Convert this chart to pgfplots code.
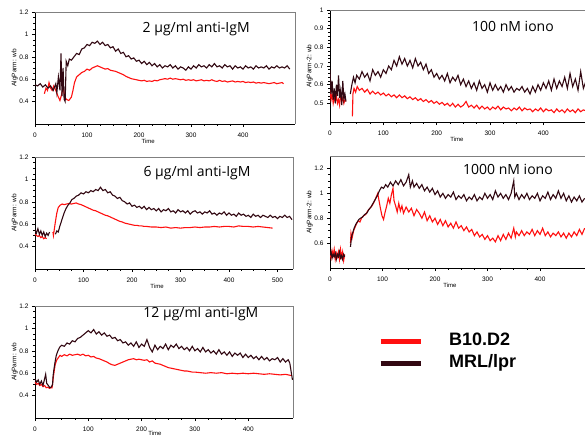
\documentclass[border=0pt]{standalone}
\usepackage{fontspec}
\setmainfont{Liberation Sans}
\newfontfamily\titlefont{Open Sans}
\usepackage{pgfplots}
\pgfplotsset{compat=1.18}

\definecolor{lpr}{RGB}{50,8,18}
\definecolor{bten}{RGB}{255,16,16}

\tikzset{ttl/.style={font=\titlefont\fontsize{14bp}{16bp}\selectfont}}
\pgfplotsset{
  panel/.style={
    scale only axis, height=112bp,
    axis x line*=bottom, axis y line*=left,
    axis line style={-, line width=0.9bp, black},
    tick align=outside, major tick length=3bp, minor tick length=1.6bp,
    tick style={black, line width=0.6bp},
    minor x tick num=3, minor y tick num=3,
    tick label style={font=\fontsize{6.5bp}{7bp}\selectfont},
    xticklabel style={yshift=-2bp},
    /pgf/number format/assume math mode=true,
    xlabel={Time},
    xlabel style={font=\fontsize{6bp}{7bp}\selectfont, anchor=north, inner sep=0pt},
    ylabel style={font=\fontsize{6.5bp}{7bp}\selectfont},
    ylabel shift=-5bp,
    xmin=0, xmax=500, clip=true,
    every axis plot/.append style={line width=1.1bp, mark=none},
    extra description/.code={\draw[gray, line width=0.5bp] (0,1) -- (1,1) -- (1,0);},
  },
}

\begin{document}
\begin{tikzpicture}
\useasboundingbox (0,0) rectangle (585bp,-437bp);

% 2 ug/ml anti-IgM
\begin{axis}[panel, width=260bp, at={(35bp,-124bp)}, anchor=south west,
  ymin=0.2, ymax=1.2, ytick={0.4,0.6,0.8,1,1.2}, xtick={0,100,200,300,400},
  ylabel={AlgParm: wb},
  xlabel style={at={(axis description cs:0.435,-0.135)}}]
\addplot[bten] coordinates {(18,0.47)(21,0.52)(24,0.50)(27,0.57)(30,0.52)(33,0.50)(36,0.54)(40,0.50)(44,0.45)(48,0.41)(51,0.46)(54,0.53)(57,0.45)(60,0.42)(65,0.41)(70,0.44)(73,0.50)(76,0.57)(80,0.62)(85,0.64)(90,0.66)(95,0.67)(100,0.69)(105,0.68)(110,0.70)(115,0.71)(120,0.72)(125,0.71)(130,0.70)(135,0.69)(140,0.695)(145,0.68)(150,0.675)(155,0.67)(160,0.66)(165,0.65)(170,0.64)(175,0.625)(180,0.615)(185,0.605)(190,0.60)(195,0.595)(200,0.59)(205,0.585)(210,0.59)(215,0.58)(220,0.585)(225,0.58)(230,0.59)(235,0.585)(240,0.595)(245,0.60)(250,0.605)(255,0.60)(260,0.61)(265,0.60)(270,0.605)(275,0.60)(280,0.595)(285,0.60)(290,0.59)(295,0.595)(300,0.59)(305,0.595)(310,0.585)(315,0.59)(320,0.595)(325,0.585)(330,0.59)(335,0.585)(340,0.595)(345,0.585)(350,0.58)(355,0.59)(360,0.58)(365,0.585)(370,0.575)(375,0.58)(380,0.585)(385,0.575)(390,0.58)(395,0.575)(400,0.58)(405,0.57)(410,0.575)(415,0.57)(420,0.575)(425,0.565)(430,0.57)(435,0.565)(440,0.57)(445,0.565)(450,0.56)(455,0.565)(460,0.57)(465,0.56)(470,0.565)(475,0.57)(478,0.56)};
\addplot[lpr] coordinates {(0,0.55)(5,0.54)(10,0.56)(15,0.53)(20,0.55)(25,0.52)(30,0.54)(35,0.50)(40,0.56)(42,0.48)(45,0.62)(48,0.50)(50,0.83)(52,0.45)(54,0.70)(56,0.42)(58,0.40)(60,0.76)(63,0.72)(66,0.78)(70,0.77)(75,0.80)(80,0.83)(85,0.82)(90,0.87)(95,0.88)(100,0.91)(105,0.90)(110,0.93)(115,0.92)(120,0.94)(125,0.91)(130,0.93)(135,0.90)(140,0.91)(145,0.88)(150,0.89)(155,0.85)(160,0.87)(165,0.83)(170,0.84)(175,0.80)(180,0.81)(185,0.78)(190,0.79)(195,0.76)(200,0.77)(205,0.74)(210,0.76)(215,0.73)(220,0.75)(225,0.72)(230,0.74)(235,0.71)(240,0.73)(245,0.70)(250,0.72)(255,0.71)(260,0.73)(265,0.70)(270,0.72)(275,0.69)(280,0.71)(285,0.70)(290,0.68)(295,0.71)(300,0.69)(305,0.72)(310,0.70)(315,0.73)(320,0.71)(325,0.72)(330,0.70)(335,0.73)(340,0.71)(345,0.74)(350,0.71)(355,0.72)(360,0.70)(365,0.73)(370,0.71)(375,0.72)(380,0.69)(385,0.72)(390,0.70)(395,0.71)(400,0.69)(405,0.72)(410,0.70)(415,0.71)(420,0.69)(425,0.72)(430,0.70)(435,0.71)(440,0.70)(445,0.72)(450,0.69)(455,0.71)(460,0.70)(465,0.72)(470,0.70)(475,0.71)(480,0.70)(485,0.72)(490,0.69)};
\node[ttl] at (axis description cs:0.62,0.85) {2 μg/ml anti-IgM};
\end{axis}

% 100 nM iono
\begin{axis}[panel, width=266.7bp, at={(330bp,-122bp)}, anchor=south west,
  ymin=0.4, ymax=1, ytick={0.5,0.6,0.7,0.8,0.9,1}, minor y tick num=4, xtick={0,100,200,300,400},
  ylabel={AlgParm-2: wb},
  xlabel style={at={(axis description cs:0.476,-0.135)}}]
\addplot[bten] coordinates {(0,0.57)(2,0.52)(4,0.55)(6,0.50)(8,0.53)(10,0.51)(12,0.54)(14,0.50)(16,0.52)(18,0.49)(20,0.55)(22,0.51)(24,0.53)(26,0.50)(28,0.52)(30,0.51)};
\addplot[bten] coordinates {(42,0.43)(43,0.55)(45,0.58)(48,0.56)(51,0.59)(55,0.57)(60,0.58)(65,0.56)(70,0.575)(75,0.55)(80,0.565)(85,0.55)(90,0.56)(95,0.545)(100,0.555)(105,0.54)(110,0.55)(115,0.535)(120,0.545)(125,0.53)(130,0.545)(135,0.53)(140,0.54)(145,0.525)(150,0.535)(155,0.52)(160,0.53)(165,0.515)(170,0.525)(175,0.51)(180,0.52)(185,0.505)(190,0.515)(195,0.50)(200,0.51)(205,0.495)(210,0.505)(215,0.49)(220,0.50)(225,0.485)(230,0.50)(235,0.48)(240,0.495)(245,0.48)(250,0.49)(255,0.51)(260,0.48)(265,0.49)(270,0.475)(275,0.49)(280,0.47)(285,0.485)(290,0.47)(295,0.48)(300,0.465)(305,0.48)(310,0.47)(315,0.485)(320,0.465)(325,0.48)(330,0.47)(335,0.475)(340,0.46)(345,0.475)(350,0.465)(355,0.48)(360,0.46)(365,0.475)(370,0.465)(375,0.47)(380,0.455)(385,0.47)(390,0.46)(395,0.475)(400,0.455)(405,0.47)(410,0.46)(415,0.465)(420,0.45)(425,0.47)(430,0.455)(435,0.465)(440,0.45)(445,0.47)(450,0.455)(455,0.465)(460,0.45)(465,0.47)(470,0.455)(475,0.465)(480,0.46)};
\addplot[lpr] coordinates {(0,0.68)(2,0.55)(4,0.62)(6,0.52)(8,0.58)(10,0.50)(12,0.60)(14,0.54)(16,0.65)(18,0.53)(20,0.57)(22,0.49)(24,0.62)(26,0.52)(28,0.55)(30,0.51)};
\addplot[lpr] coordinates {(38,0.55)(41,0.60)(44,0.64)(47,0.61)(50,0.65)(55,0.63)(60,0.67)(65,0.64)(70,0.66)(75,0.62)(80,0.68)(85,0.65)(90,0.67)(95,0.64)(100,0.68)(105,0.66)(110,0.70)(115,0.68)(120,0.73)(125,0.70)(130,0.75)(135,0.71)(140,0.74)(145,0.70)(150,0.73)(155,0.69)(160,0.74)(165,0.70)(170,0.72)(175,0.68)(180,0.71)(185,0.66)(190,0.68)(195,0.64)(200,0.66)(205,0.63)(210,0.65)(215,0.62)(220,0.66)(225,0.61)(230,0.64)(235,0.62)(240,0.65)(245,0.60)(250,0.63)(255,0.59)(260,0.62)(265,0.58)(270,0.61)(275,0.57)(280,0.62)(285,0.58)(290,0.60)(295,0.56)(300,0.61)(305,0.57)(310,0.60)(315,0.57)(320,0.59)(325,0.56)(330,0.60)(335,0.57)(340,0.59)(345,0.56)(350,0.58)(355,0.57)(360,0.59)(365,0.56)(370,0.58)(375,0.55)(380,0.59)(385,0.56)(390,0.60)(395,0.57)(400,0.61)(405,0.58)(410,0.62)(415,0.57)(420,0.63)(425,0.58)(430,0.62)(435,0.59)(440,0.64)(445,0.58)(450,0.66)(455,0.59)(460,0.63)(465,0.57)(470,0.67)(475,0.58)(480,0.62)};
\node[ttl] at (axis description cs:0.686,0.85) {100 nM iono};
\end{axis}

% 6 ug/ml anti-IgM
\begin{axis}[panel, width=258bp, at={(35bp,-269bp)}, anchor=south west, xmax=532,
  ymin=0.2, ymax=1.2, ytick={0.4,0.6,0.8,1,1.2}, xtick={0,100,200,300,400,500},
  ylabel={AlgParm: wb},
  xlabel style={at={(axis description cs:0.473,-0.135)}}]
\addplot[bten] coordinates {(0,0.51)(3,0.50)(6,0.49)(9,0.50)(12,0.48)(15,0.49)(18,0.47)(21,0.48)(24,0.47)};
\addplot[bten] coordinates {(37,0.53)(38,0.50)(40,0.56)(42,0.62)(45,0.70)(48,0.75)(52,0.77)(56,0.78)(60,0.775)(65,0.78)(70,0.785)(75,0.78)(80,0.785)(85,0.79)(90,0.78)(95,0.775)(100,0.765)(105,0.755)(110,0.745)(115,0.735)(120,0.725)(125,0.72)(130,0.71)(135,0.70)(140,0.69)(145,0.68)(150,0.675)(155,0.665)(160,0.655)(165,0.645)(170,0.635)(175,0.625)(180,0.62)(185,0.61)(190,0.605)(195,0.60)(200,0.595)(205,0.59)(210,0.59)(215,0.585)(220,0.585)(225,0.58)(230,0.58)(240,0.575)(250,0.575)(260,0.57)(270,0.575)(280,0.565)(290,0.57)(300,0.565)(310,0.57)(320,0.57)(330,0.575)(340,0.57)(350,0.575)(360,0.575)(370,0.58)(380,0.575)(390,0.58)(400,0.58)(410,0.575)(420,0.585)(430,0.58)(440,0.58)(450,0.575)(460,0.58)(470,0.575)(480,0.57)(490,0.565)};
\addplot[lpr] coordinates {(0,0.55)(3,0.52)(6,0.56)(9,0.51)(12,0.54)(15,0.50)(18,0.53)(21,0.49)(24,0.52)(27,0.50)(30,0.53)};
\addplot[lpr] coordinates {(42,0.51)(45,0.54)(48,0.53)(51,0.58)(54,0.62)(57,0.66)(60,0.70)(64,0.74)(68,0.77)(72,0.79)(76,0.82)(80,0.83)(85,0.85)(90,0.86)(95,0.88)(100,0.87)(105,0.89)(110,0.88)(115,0.90)(120,0.89)(125,0.91)(130,0.90)(135,0.93)(140,0.90)(145,0.91)(150,0.88)(155,0.89)(160,0.86)(165,0.85)(170,0.83)(175,0.84)(180,0.81)(185,0.80)(190,0.78)(195,0.79)(200,0.76)(205,0.77)(210,0.75)(215,0.76)(220,0.74)(225,0.76)(230,0.73)(235,0.75)(240,0.73)(245,0.74)(250,0.72)(255,0.74)(260,0.71)(265,0.73)(270,0.72)(275,0.74)(280,0.71)(285,0.72)(290,0.70)(295,0.73)(300,0.71)(305,0.72)(310,0.70)(315,0.72)(320,0.69)(325,0.71)(330,0.72)(335,0.70)(340,0.71)(345,0.69)(350,0.71)(355,0.70)(360,0.72)(365,0.69)(370,0.70)(375,0.68)(380,0.70)(385,0.69)(390,0.71)(395,0.68)(400,0.70)(405,0.68)(410,0.69)(415,0.67)(420,0.70)(425,0.68)(430,0.69)(435,0.67)(440,0.68)(445,0.66)(450,0.69)(455,0.67)(460,0.68)(465,0.66)(470,0.68)(475,0.67)(480,0.66)(485,0.68)(490,0.66)(495,0.67)(500,0.65)(505,0.67)(510,0.66)(515,0.68)(520,0.66)(525,0.67)(530,0.64)};
\node[ttl] at (axis description cs:0.628,0.857) {6 μg/ml anti-IgM};
\end{axis}

% 1000 nM iono
\begin{axis}[panel, width=262.5bp, at={(330bp,-268bp)}, anchor=south west,
  ymin=0.4, ymax=1.3, ytick={0.6,0.8,1,1.2}, xtick={0,100,200,300,400},
  ylabel={AlgParm-2: wb},
  xlabel style={at={(axis description cs:0.457,-0.135)}}]
\addplot[bten] coordinates {(0,0.52)(2,0.48)(4,0.54)(6,0.50)(8,0.55)(10,0.47)(12,0.52)(14,0.49)(16,0.53)(18,0.47)(20,0.55)(22,0.49)(24,0.53)(26,0.46)(28,0.51)};
\addplot[bten] coordinates {(39,0.60)(40,0.68)(42,0.64)(45,0.70)(48,0.73)(51,0.76)(54,0.78)(57,0.77)(60,0.80)(64,0.82)(68,0.83)(72,0.86)(76,0.88)(80,0.90)(84,0.93)(88,0.97)(91,1.00)(93,0.95)(96,0.88)(99,0.82)(102,0.79)(105,0.85)(108,0.90)(111,0.96)(114,0.92)(117,0.99)(120,1.04)(122,0.94)(125,0.90)(128,0.85)(131,0.92)(134,0.86)(137,0.90)(140,0.84)(145,0.89)(150,0.85)(155,0.88)(160,0.82)(165,0.87)(170,0.84)(175,0.80)(180,0.85)(185,0.78)(190,0.82)(195,0.77)(200,0.80)(205,0.75)(210,0.79)(215,0.74)(220,0.78)(225,0.73)(230,0.76)(235,0.72)(240,0.77)(245,0.72)(250,0.74)(255,0.70)(260,0.73)(265,0.69)(270,0.71)(275,0.66)(280,0.69)(285,0.65)(290,0.67)(295,0.63)(300,0.66)(305,0.62)(310,0.64)(315,0.61)(320,0.66)(325,0.62)(330,0.67)(335,0.63)(340,0.68)(345,0.64)(350,0.72)(353,0.65)(355,0.69)(360,0.66)(365,0.70)(370,0.66)(375,0.69)(380,0.67)(385,0.71)(390,0.66)(395,0.70)(400,0.67)(405,0.72)(410,0.66)(415,0.69)(420,0.65)(425,0.68)(430,0.66)(435,0.69)(440,0.65)(445,0.68)(450,0.64)(455,0.68)(460,0.65)(465,0.69)(470,0.66)(475,0.71)(480,0.67)(485,0.72)};
\addplot[lpr] coordinates {(0,0.50)(2,0.53)(4,0.48)(6,0.51)(8,0.49)(10,0.52)(12,0.47)(14,0.51)(16,0.49)(18,0.53)(20,0.48)(22,0.50)(24,0.47)(26,0.51)(28,0.49)};
\addplot[lpr] coordinates {(39,0.57)(41,0.65)(43,0.68)(46,0.72)(49,0.75)(52,0.77)(55,0.79)(58,0.80)(62,0.81)(66,0.83)(70,0.84)(74,0.87)(78,0.89)(82,0.92)(86,0.95)(90,0.98)(94,1.02)(98,1.05)(102,1.04)(106,1.07)(110,1.05)(115,1.09)(120,1.06)(125,1.10)(130,1.07)(135,1.11)(140,1.06)(145,1.09)(150,1.15)(153,1.05)(157,1.10)(160,1.05)(165,1.08)(170,1.04)(175,1.07)(180,1.02)(185,1.05)(190,1.01)(195,1.04)(200,0.99)(205,1.02)(210,0.97)(215,1.00)(220,0.96)(225,0.99)(230,0.97)(235,1.01)(240,0.95)(245,0.98)(250,0.96)(255,0.99)(260,0.94)(265,0.97)(270,0.95)(275,0.99)(280,0.94)(285,0.97)(290,0.95)(295,1.00)(300,0.96)(305,0.99)(310,0.95)(315,1.02)(320,0.97)(325,1.00)(330,0.96)(335,0.99)(340,0.95)(345,1.00)(350,1.10)(352,0.97)(355,1.00)(360,0.95)(365,0.99)(370,0.96)(375,1.00)(380,0.95)(385,0.98)(390,0.96)(395,1.00)(400,0.94)(405,0.98)(410,0.96)(415,1.01)(420,0.95)(425,0.99)(430,0.96)(435,1.02)(440,0.96)(445,1.00)(450,0.94)(455,0.98)(460,0.93)(465,0.97)(470,0.94)(475,0.98)(480,0.93)(485,0.96)};
\node[ttl] at (axis description cs:0.678,0.88) {1000 nM iono};
\end{axis}

% 12 ug/ml anti-IgM, with the legend
\begin{axis}[panel, width=258bp, at={(35bp,-418bp)}, anchor=south west, xmax=484,
  ymin=0.2, ymax=1.2, ytick={0.4,0.6,0.8,1,1.2}, xtick={0,100,200,300,400},
  ylabel={AlgParm: wb},
  xlabel style={at={(axis description cs:0.465,-0.115)}},
  legend image code/.code={\draw[line width=5bp] (0bp,0bp) -- (40bp,0bp);},
  legend style={at={(axis description cs:1.33,0.76)}, anchor=north west,
    draw=none, fill=none, inner sep=0pt, outer sep=0pt, row sep=5bp,
    font=\bfseries\fontsize{18bp}{20bp}\selectfont,
    nodes={inner sep=0pt, text height=13bp, text depth=4bp},
    /tikz/every odd column/.append style={column sep=26bp}},
  legend cell align=left]
\addplot[bten] coordinates {(0,0.52)(3,0.50)(6,0.51)(9,0.49)(12,0.50)(15,0.48)(18,0.49)(21,0.47)(24,0.475)(27,0.465)(30,0.47)(32,0.47)(34,0.55)(36,0.62)(38,0.68)(41,0.72)(44,0.74)(47,0.76)(50,0.75)(55,0.765)(60,0.755)(65,0.77)(70,0.76)(75,0.765)(80,0.77)(85,0.76)(90,0.77)(95,0.755)(100,0.76)(105,0.745)(110,0.75)(115,0.735)(120,0.73)(125,0.72)(130,0.71)(135,0.70)(140,0.685)(145,0.675)(150,0.67)(155,0.68)(160,0.69)(165,0.70)(170,0.71)(175,0.72)(180,0.725)(185,0.73)(190,0.72)(195,0.725)(200,0.72)(205,0.715)(210,0.72)(215,0.70)(220,0.71)(225,0.69)(230,0.685)(235,0.68)(240,0.67)(245,0.66)(250,0.65)(255,0.645)(260,0.64)(265,0.635)(270,0.63)(275,0.625)(280,0.62)(285,0.62)(290,0.615)(295,0.61)(300,0.61)(310,0.605)(320,0.60)(330,0.605)(340,0.60)(350,0.605)(360,0.595)(370,0.60)(380,0.595)(390,0.60)(400,0.595)(410,0.60)(420,0.595)(430,0.59)(440,0.595)(450,0.59)(460,0.585)(470,0.59)(480,0.58)};
\addlegendentry{B10.D2}
\addplot[lpr] coordinates {(0,0.55)(3,0.52)(6,0.54)(9,0.50)(12,0.53)(15,0.49)(18,0.55)(20,0.59)(22,0.51)(25,0.49)(28,0.47)(31,0.48)(33,0.50)(34,0.58)(36,0.65)(38,0.71)(40,0.76)(43,0.80)(46,0.83)(50,0.85)(55,0.84)(60,0.87)(65,0.86)(70,0.89)(75,0.88)(80,0.91)(85,0.92)(90,0.94)(95,0.96)(100,0.98)(105,0.96)(110,0.99)(115,0.95)(120,0.97)(125,0.94)(130,0.96)(135,0.93)(140,0.94)(145,0.91)(150,0.92)(155,0.89)(160,0.90)(165,0.87)(170,0.88)(175,0.85)(180,0.87)(185,0.84)(190,0.88)(195,0.83)(200,0.86)(205,0.84)(210,0.90)(215,0.83)(220,0.79)(225,0.85)(230,0.81)(235,0.84)(240,0.82)(245,0.86)(250,0.81)(255,0.85)(260,0.83)(265,0.86)(270,0.82)(275,0.84)(280,0.81)(285,0.83)(290,0.80)(295,0.84)(300,0.80)(305,0.82)(310,0.79)(315,0.83)(320,0.79)(325,0.81)(330,0.78)(335,0.80)(340,0.77)(345,0.81)(350,0.77)(355,0.79)(360,0.76)(365,0.79)(370,0.75)(375,0.78)(380,0.76)(385,0.78)(390,0.74)(395,0.77)(400,0.74)(405,0.76)(410,0.73)(415,0.75)(420,0.72)(425,0.75)(430,0.72)(435,0.74)(440,0.71)(445,0.73)(450,0.72)(455,0.74)(460,0.70)(465,0.73)(470,0.70)(475,0.72)(478,0.69)(481,0.60)(483,0.54)};
\addlegendentry{MRL/lpr}
\node[ttl] at (axis description cs:0.643,0.926) {12 μg/ml anti-IgM};
\end{axis}
\end{tikzpicture}
\end{document}
